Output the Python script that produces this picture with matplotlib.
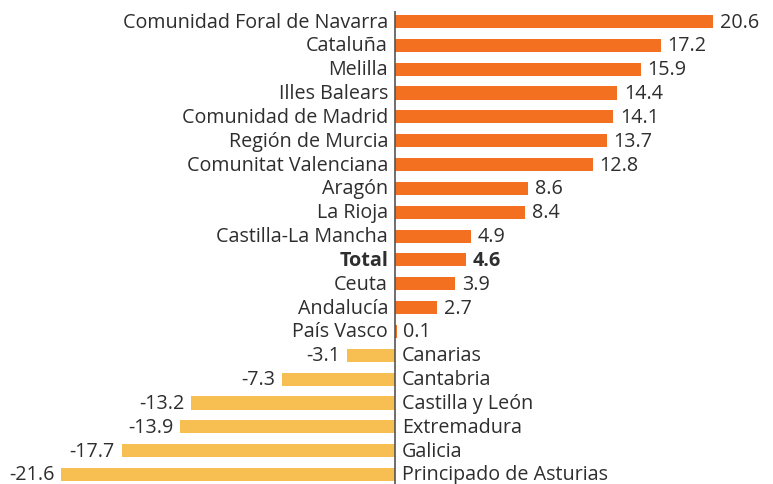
import matplotlib
matplotlib.use("Agg")
import matplotlib.pyplot as plt

regions = ["Comunidad Foral de Navarra", "Cataluña", "Melilla", "Illes Balears",
           "Comunidad de Madrid", "Región de Murcia", "Comunitat Valenciana", "Aragón",
           "La Rioja", "Castilla-La Mancha", "Total", "Ceuta", "Andalucía", "País Vasco",
           "Canarias", "Cantabria", "Castilla y León", "Extremadura", "Galicia",
           "Principado de Asturias"]
values = [20.6, 17.2, 15.9, 14.4, 14.1, 13.7, 12.8, 8.6, 8.4, 4.9, 4.6, 3.9, 2.7, 0.1,
          -3.1, -7.3, -13.2, -13.9, -17.7, -21.6]

pos_color = "#F37021"
neg_color = "#F7BE52"
txt_color = "#2e2e2e"

plt.rcParams['font.family'] = ['Open Sans', 'DejaVu Sans']
fig = plt.figure(figsize=(7.73, 4.85), dpi=100)
ax = fig.add_axes([0, 0, 1, 1])

ypos = list(range(len(regions)))
colors = [pos_color if v >= 0 else neg_color for v in values]
ax.barh(ypos, values, height=0.55, color=colors, zorder=2)

fs = 14.2
off = 5
for y, name, v in zip(ypos, regions, values):
    weight = 'bold' if name == "Total" else 'normal'
    if v >= 0:
        ax.annotate(name, (0, y), xytext=(-off, 0), textcoords='offset points',
                    ha='right', va='center', fontsize=fs, color=txt_color, fontweight=weight)
        ax.annotate(f"{v:.1f}", (v, y), xytext=(off, 0), textcoords='offset points',
                    ha='left', va='center', fontsize=fs, color=txt_color, fontweight=weight)
    else:
        ax.annotate(name, (0, y), xytext=(off, 0), textcoords='offset points',
                    ha='left', va='center', fontsize=fs, color=txt_color, fontweight=weight)
        ax.annotate(f"{v:.1f}", (v, y), xytext=(-off, 0), textcoords='offset points',
                    ha='right', va='center', fontsize=fs, color=txt_color, fontweight=weight)

ax.vlines(0, -0.44, 19.6, color="#555555", linewidth=1.2, zorder=3)

ax.set_xlim(-25.57, 24.47)
ax.set_ylim(19.40, -0.944)
ax.axis('off')

fig.savefig("out.png", dpi=100)
